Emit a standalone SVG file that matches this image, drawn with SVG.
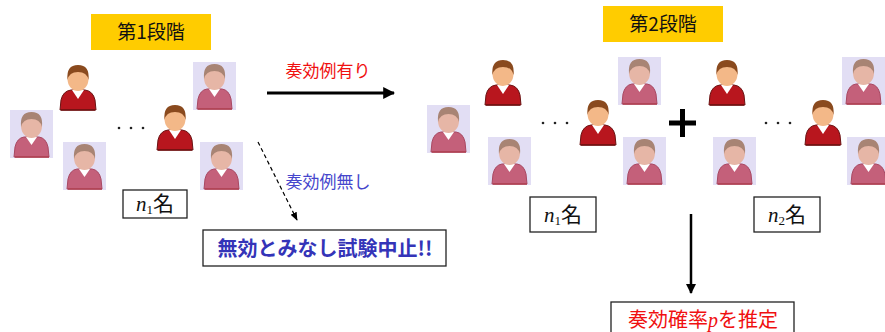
<svg xmlns="http://www.w3.org/2000/svg" xmlns:xlink="http://www.w3.org/1999/xlink" width="885" height="332" viewBox="0 0 885 332">
  <style>
    .stage { fill: #ffcc00; }
    .stage-t { font-family: "Noto Sans CJK JP", sans-serif; font-size: 19px; fill: #111; text-anchor: middle; }
    .box { fill: #fff; stroke: #222; stroke-width: 1.3; }
    .cnt { font-family: "Liberation Serif", "Noto Sans CJK JP", serif; font-size: 21px; fill: #111; text-anchor: middle; }
    .cnt .n { font-style: italic; }
    .cnt .jp { font-family: "Noto Sans CJK JP", sans-serif; }
    .lbl { font-family: "Noto Sans CJK JP", sans-serif; font-size: 17px; text-anchor: middle; }
    .dots { fill: #222; }
    .line { stroke: #000; fill: none; }
  </style>
  <defs>
    <!-- responder: full-colour figure -->
    <g id="p-red">
      <path d="M2,48 L3,38 Q5,29 13,28 L27,28 Q35,29 37,38 L38,48 Z" fill="#b8161e" stroke="#6a1212" stroke-width="1"/>
      <path d="M14,28 L20,37 L26,28 Z" fill="#fff"/>
      <ellipse cx="20" cy="17" rx="10.5" ry="12" fill="#f3b888"/>
      <path d="M9.5,18 Q8,3 20,3 Q32,3 30.5,18 Q29,10 20,10 Q11,10 9.5,18 Z" fill="#8a4a1e"/>
      <path d="M3,48 L37,48" stroke="#701010" stroke-width="1.5"/>
    </g>
    <!-- non-responder: faded figure on lavender tile -->
    <g id="p-gray">
      <rect x="0" y="0" width="43" height="48" fill="#e2def4"/>
      <path d="M4,47 L5,37 Q7,28 14,27 L29,27 Q36,28 38,37 L39,47 Z" fill="#c4607a" stroke="#a84862" stroke-width="1"/>
      <path d="M16,27 L21.5,35 L27,27 Z" fill="#fff"/>
      <ellipse cx="21.5" cy="16" rx="10.5" ry="12" fill="#e6b6a6"/>
      <path d="M11,17 Q9.5,2 21.5,2 Q33.5,2 32,17 Q30,9 21.5,9 Q13,9 11,17 Z" fill="#a88474"/>
      <path d="M5,47 L39,47" stroke="#b04050" stroke-width="1.5"/>
    </g>
    <marker id="ah" viewBox="0 0 10 10" refX="9" refY="5" markerWidth="4" markerHeight="4" orient="auto">
      <path d="M0,0 L10,5 L0,10 Z" fill="#000"/>
    </marker>
    <marker id="ah-s" viewBox="0 0 10 10" refX="9" refY="5" markerWidth="7" markerHeight="7" orient="auto">
      <path d="M0,1 L10,5 L0,9 Z" fill="#000"/>
    </marker>
  </defs>

  <rect width="885" height="332" fill="#fff"/>

  <!-- stage 1 -->
  <g id="stage1-label">
    <rect class="stage" x="91" y="14" width="120" height="36"/>
    <text class="stage-t" x="151" y="39">第1段階</text>
  </g>
  <g id="stage1-group">
    <use xlink:href="#p-red" x="58" y="62"/>
    <use xlink:href="#p-gray" x="10" y="110"/>
    <use xlink:href="#p-gray" x="63" y="142"/>
    <use xlink:href="#p-red" x="155" y="102"/>
    <use xlink:href="#p-gray" x="193" y="62"/>
    <use xlink:href="#p-gray" x="200" y="142"/>
    <g class="dots">
      <circle cx="119" cy="128" r="1.3"/>
      <circle cx="131" cy="128" r="1.3"/>
      <circle cx="143" cy="128" r="1.3"/>
    </g>
  </g>
  <g id="stage1-count">
    <rect class="box" x="123" y="190" width="64" height="28"/>
    <text class="cnt" x="155" y="211"><tspan class="n">n</tspan><tspan font-size="13" dy="3">1</tspan><tspan class="jp" dy="-3">名</tspan></text>
  </g>

  <!-- stage 2 -->
  <g id="stage2-label">
    <rect class="stage" x="603" y="6" width="120" height="36"/>
    <text class="stage-t" x="663" y="31">第2段階</text>
  </g>
  <g id="stage2-first">
    <use xlink:href="#p-red" x="483" y="57"/>
    <use xlink:href="#p-gray" x="427" y="105"/>
    <use xlink:href="#p-gray" x="488" y="137"/>
    <use xlink:href="#p-red" x="578" y="97"/>
    <use xlink:href="#p-gray" x="618" y="57"/>
    <use xlink:href="#p-gray" x="623" y="137"/>
    <g class="dots">
      <circle cx="543" cy="123" r="1.3"/>
      <circle cx="555" cy="123" r="1.3"/>
      <circle cx="567" cy="123" r="1.3"/>
    </g>
  </g>
  <g id="plus">
    <path d="M669,123 H696 M682.5,109 V137" stroke="#000" stroke-width="5"/>
  </g>
  <g id="stage2-second">
    <use xlink:href="#p-red" x="707" y="57"/>
    <use xlink:href="#p-gray" x="713" y="137"/>
    <use xlink:href="#p-red" x="803" y="97"/>
    <use xlink:href="#p-gray" x="842" y="57"/>
    <use xlink:href="#p-gray" x="847" y="137"/>
    <g class="dots">
      <circle cx="766" cy="123" r="1.3"/>
      <circle cx="778" cy="123" r="1.3"/>
      <circle cx="790" cy="123" r="1.3"/>
    </g>
  </g>
  <g id="stage2-count1">
    <rect class="box" x="530" y="197" width="66" height="35"/>
    <text class="cnt" x="563" y="222"><tspan class="n">n</tspan><tspan font-size="13" dy="3">1</tspan><tspan class="jp" dy="-3">名</tspan></text>
  </g>
  <g id="stage2-count2">
    <rect class="box" x="754" y="197" width="66" height="35"/>
    <text class="cnt" x="787" y="222"><tspan class="n">n</tspan><tspan font-size="13" dy="3">2</tspan><tspan class="jp" dy="-3">名</tspan></text>
  </g>

  <!-- outcome boxes -->
  <g id="stop">
    <rect class="box" x="203" y="230" width="243" height="36"/>
    <text x="325" y="256" font-family="Noto Sans CJK JP, sans-serif" font-size="20" font-weight="bold" fill="#3434b8" text-anchor="middle">無効とみなし試験中止!!</text>
  </g>
  <g id="estimate">
    <rect class="box" x="611" y="302" width="183" height="40"/>
    <text x="703" y="327" font-family="Noto Sans CJK JP, sans-serif" font-size="20" fill="#f01010" text-anchor="middle">奏効確率<tspan font-family="Liberation Serif, serif" font-style="italic">p</tspan>を推定</text>
  </g>

  <!-- connectors -->
  <g id="connectors">
    <line class="line" x1="267" y1="93" x2="394" y2="93" stroke-width="3" marker-end="url(#ah)"/>
    <text class="lbl" x="328" y="77" fill="#f01010">奏効例有り</text>
    <line class="line" x1="258" y1="142" x2="297" y2="220" stroke-width="1.2" stroke-dasharray="4,3" marker-end="url(#ah-s)"/>
    <text class="lbl" x="328" y="188" fill="#4646cc">奏効例無し</text>
    <line class="line" x1="691" y1="214" x2="691" y2="293" stroke-width="2.5" marker-end="url(#ah)"/>
  </g>
</svg>
